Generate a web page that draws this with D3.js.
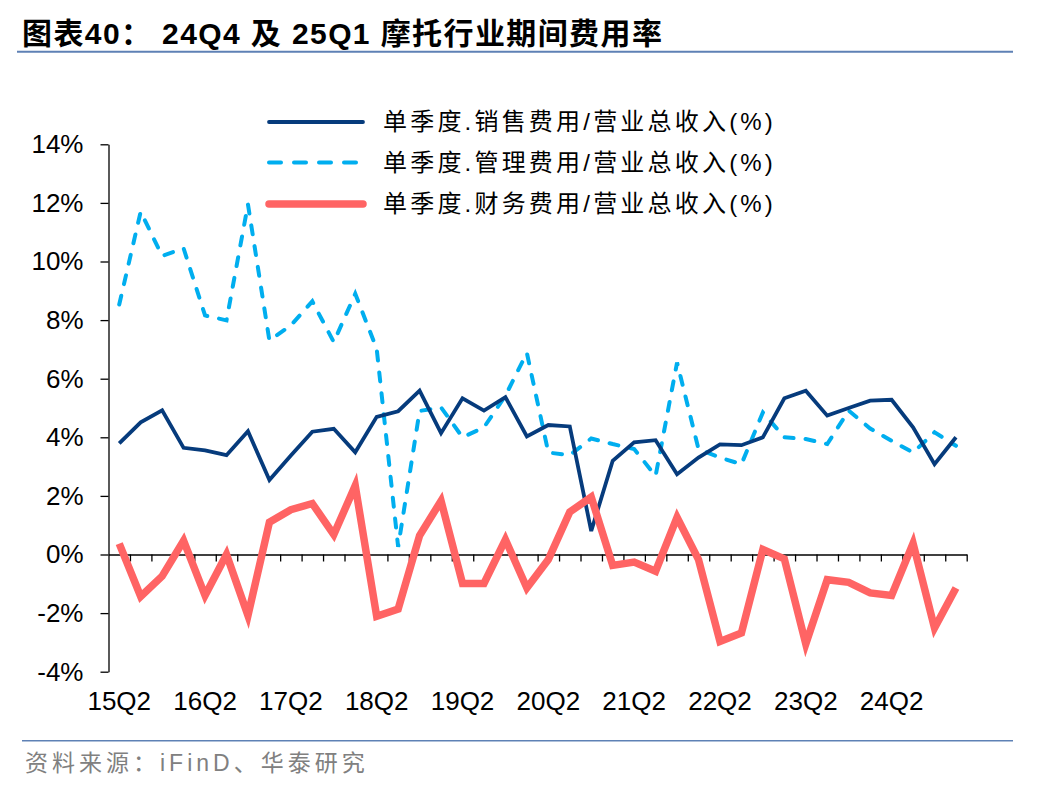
<!DOCTYPE html>
<html>
<head>
<meta charset="utf-8">
<script src="https://cdn.jsdelivr.net/npm/d3@7"></script>
<style>
  body { margin: 0; background: #fff; }
  svg { display: block; }
  text { font-family: "Liberation Sans", Arial, "Noto Sans CJK SC", sans-serif; }
  .axis path, .axis line { stroke: #000; stroke-width: 1.3px; }
  .axis text { font-size: 26px; fill: #000; }
</style>
</head>
<body>
<script>
(function(){

//quarters 15Q2 .. 25Q1
var quarters = ["15Q2","15Q3","15Q4","16Q1","16Q2","16Q3","16Q4","17Q1","17Q2","17Q3",
                "17Q4","18Q1","18Q2","18Q3","18Q4","19Q1","19Q2","19Q3","19Q4","20Q1",
                "20Q2","20Q3","20Q4","21Q1","21Q2","21Q3","21Q4","22Q1","22Q2","22Q3",
                "22Q4","23Q1","23Q2","23Q3","23Q4","24Q1","24Q2","24Q3","24Q4","25Q1"];
var xLabels = ["15Q2","16Q2","17Q2","18Q2","19Q2","20Q2","21Q2","22Q2","23Q2","24Q2"];
var yTicks = [-4, -2, 0, 2, 4, 6, 8, 10, 12, 14];

//销售费用率 (%)
var sales = [3.79, 4.51, 4.92, 3.64, 3.55, 3.39, 4.21, 2.54, 3.38, 4.19,
             4.29, 3.49, 4.70, 4.89, 5.59, 4.14, 5.33, 4.91, 5.37, 4.03,
             4.42, 4.37, 0.80, 3.20, 3.83, 3.90, 2.74, 3.31, 3.76, 3.73,
             4.00, 5.33, 5.59, 4.74, 5.00, 5.25, 5.28, 4.34, 3.08, 4.00];
//管理费用率 (%)
var admin = [8.53, 11.70, 10.19, 10.45, 8.16, 7.99, 11.95, 7.30, 7.82, 8.64,
             7.25, 8.90, 7.02, 0.26, 4.90, 5.02, 4.00, 4.34, 5.42, 6.88,
             3.48, 3.39, 3.96, 3.77, 3.60, 2.68, 6.55, 3.60, 3.31, 3.08,
             4.85, 4.00, 3.94, 3.77, 4.91, 4.30, 3.88, 3.48, 4.17, 3.71];
//财务费用率 (%)
var finance = [0.37, -1.43, -0.74, 0.47, -1.40, 0.00, -2.08, 1.10, 1.53, 1.74,
               0.68, 2.35, -2.11, -1.86, 0.65, 1.83, -0.99, -0.99, 0.51, -1.14,
               -0.17, 1.45, 1.96, -0.37, -0.26, -0.57, 1.27, -0.17, -2.97, -2.68,
               0.17, -0.15, -3.05, -0.86, -0.95, -1.31, -1.40, 0.38, -2.51, -1.14];

var seriesNames = ["单季度.销售费用/营业总收入(%)", "单季度.管理费用/营业总收入(%)", "单季度.财务费用/营业总收入(%)"];

var width = 1048, height = 792;
var left = 108.5, right = 966.7, top = 144.3, bottom = 671.7;

var svg = d3.select("body").append("svg")
    .attr("width", width)
    .attr("height", height);

//title
svg.append("text")
    .attr("x", 22)
    .attr("y", 44)
    .attr("xml:space", "preserve")
    .style("font-size", "30px")
    .style("font-weight", "bold")
    .style("letter-spacing", "1.4px")
    .text("图表40： 24Q4 及 25Q1 摩托行业期间费用率");

svg.append("line")
    .attr("x1", 17).attr("x2", 1013)
    .attr("y1", 51.7).attr("y2", 51.7)
    .style("stroke", "#5E81B5")
    .style("stroke-width", 2);

//scales
var x = d3.scaleBand()
    .domain(quarters)
    .range([left, right]);
var xEdge = d3.scaleLinear()
    .domain([0, quarters.length])
    .range([left, right]);
var y = d3.scaleLinear()
    .domain([-4, 14])
    .range([bottom, top]);

//y axis
svg.append("g")
    .attr("class", "axis")
    .attr("transform", "translate(" + left + ",0)")
    .call(d3.axisLeft(y)
        .tickValues(yTicks)
        .tickSize(8)
        .tickSizeOuter(0)
        .tickPadding(17)
        .tickFormat(function(d){ return d + "%"; }));

//x axis at 0% with ticks between quarters
svg.append("g")
    .attr("class", "axis")
    .attr("transform", "translate(0," + y(0) + ")")
    .call(d3.axisBottom(xEdge)
        .tickValues(d3.range(1, quarters.length + 1))
        .tickSize(7)
        .tickSizeOuter(0)
        .tickFormat(""));

//x labels at the bottom
var xLab = svg.append("g")
    .attr("class", "axis")
    .attr("transform", "translate(0," + bottom + ")")
    .call(d3.axisBottom(x)
        .tickValues(xLabels)
        .tickSize(0)
        .tickPadding(20));
xLab.select(".domain").remove();

//lines
var line = function(values){
    return d3.line()
        .x(function(d, i){ return x(quarters[i]) + x.bandwidth() / 2; })
        .y(function(d){ return y(d); })(values);
};

var styles = [
    {data: sales, color: "#063B7C", w: 3.8, dash: null, cap: "butt"},
    {data: admin, color: "#00AEEF", w: 4, dash: "9,12", cap: "round"},
    {data: finance, color: "#FF6464", w: 7.5, dash: null, cap: "butt"}
];

[styles[1], styles[0], styles[2]].forEach(function(s){
    svg.append("path")
        .attr("d", line(s.data))
        .style("fill", "none")
        .style("stroke", s.color)
        .style("stroke-width", s.w)
        .style("stroke-linejoin", "miter")
        .style("stroke-linecap", s.cap)
        .style("stroke-dasharray", s.dash);
});

//legend
var legendY = [122, 162.5, 204];
var legend = svg.selectAll(".legend")
    .data(styles)
    .enter()
    .append("g")
    .attr("class", "legend")
    .attr("transform", function(d, i){ return "translate(0," + legendY[i] + ")"; });

legend.append("line")
    .attr("x1", 269).attr("x2", 363)
    .attr("y1", 0).attr("y2", 0)
    .style("stroke", function(d){ return d.color; })
    .style("stroke-width", function(d){ return d.w; })
    .style("stroke-linecap", "round")
    .style("stroke-dasharray", function(d){ return d.dash ? "12,13" : null; });

legend.append("text")
    .attr("x", 383)
    .attr("y", 0)
    .attr("dy", "0.35em")
    .style("font-size", "24px")
    .style("letter-spacing", "3.2px")
    .text(function(d, i){ return seriesNames[i]; });

//source
svg.append("line")
    .attr("x1", 22).attr("x2", 1013)
    .attr("y1", 740.7).attr("y2", 740.7)
    .style("stroke", "#5E81B5")
    .style("stroke-width", 1.5);

svg.append("text")
    .attr("x", 25)
    .attr("y", 771)
    .style("font-size", "23px")
    .style("letter-spacing", "4px")
    .style("fill", "#808080")
    .text("资料来源：iFinD、华泰研究");

})();
</script>
</body>
</html>
